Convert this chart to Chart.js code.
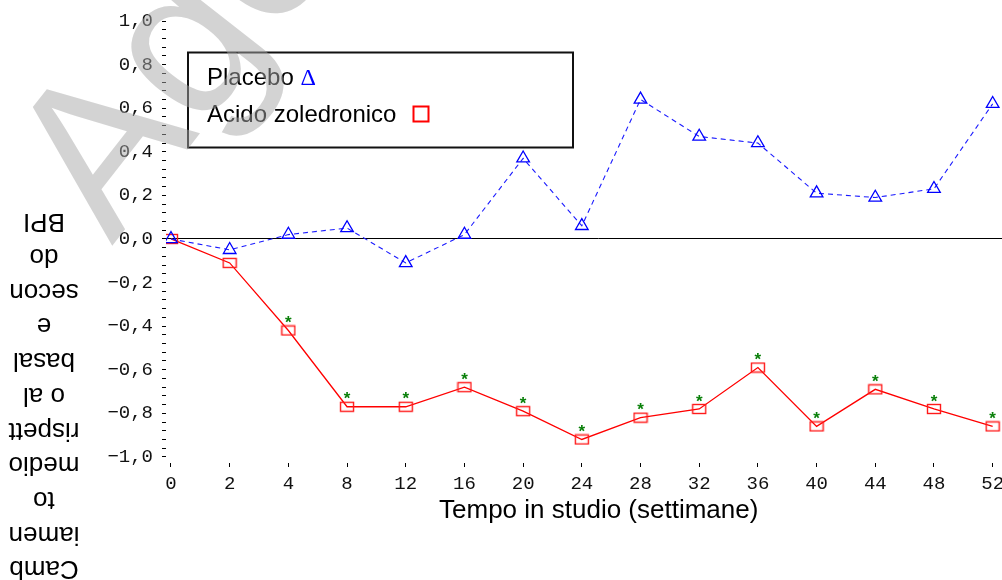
<!DOCTYPE html>
<html>
<head>
<meta charset="utf-8">
<script src="https://cdn.jsdelivr.net/npm/chart.js@4/dist/chart.umd.min.js"></script>
<style>
html,body{margin:0;padding:0;background:#fff;overflow:hidden;width:1002px;height:580px;}
#wrap{position:relative;width:1040px;height:580px;}
</style>
</head>
<body>
<div id="wrap"><canvas id="c"></canvas></div>
<script>
// ---- data ----
const weeks = [0, 2, 4, 8, 12, 16, 20, 24, 28, 32, 36, 40, 44, 48, 52];
const placebo = [0.00, -0.05, 0.02, 0.05, -0.11, 0.02, 0.37, 0.06, 0.64, 0.47, 0.44, 0.21, 0.19, 0.23, 0.62];
const zoledronic = [0.00, -0.11, -0.42, -0.77, -0.77, -0.68, -0.79, -0.92, -0.82, -0.78, -0.59, -0.86, -0.69, -0.78, -0.86];
const significant = [false, false, true, true, true, true, true, true, true, true, true, true, true, true, true];
const seriesNames = ['Placebo', 'Acido zoledronico'];
const yMajorTicks = [-1.0, -0.8, -0.6, -0.4, -0.2, 0.0, 0.2, 0.4, 0.6, 0.8, 1.0];
const xTitle = 'Tempo in studio (settimane)';
const yTitleLines = ['Camb', 'iamen', 'to', 'medio', 'rispett', 'o al', 'basal', 'e', 'secon', 'do', 'BPI'];
const watermarkText = 'Agenzia Italiana del Farmaco';

// minor ticks: 4 between each pair of major ticks
const yAllTicks = [];
yMajorTicks.forEach((v, i) => {
  yAllTicks.push(v);
  if (i < yMajorTicks.length - 1) {
    const next = yMajorTicks[i + 1];
    for (let j = 1; j < 5; j++) yAllTicks.push(v + j * (next - v) / 5);
  }
});
function fmtY(v) {
  const isMajor = yMajorTicks.some(m => Math.abs(m - v) < 1e-6);
  if (!isMajor) return '';
  const s = Math.abs(v).toFixed(1).replace('.', ',');
  return v < -1e-9 ? '\u2212' + s : s;
}

// marker images
function makeRect() {
  const c = document.createElement('canvas');
  c.width = 16; c.height = 12;
  const g = c.getContext('2d');
  g.strokeStyle = '#ff1a1a';
  g.lineWidth = 1.4;
  g.strokeRect(1.5, 1.5, 13, 9);
  return c;
}
const rectImg = makeRect();

const decor = {
  id: 'decor',
  afterDatasetsDraw(chart) {
    const ctx = chart.ctx;
    const meta = chart.getDatasetMeta(1);
    ctx.save();
    ctx.fillStyle = '#0a800a';
    ctx.font = 'bold 17px "Liberation Sans"';
    ctx.textAlign = 'center';
    ctx.textBaseline = 'middle';
    meta.data.forEach((pt, i) => {
      if (significant[i]) ctx.fillText('*', pt.x, pt.y - 7);
    });
    ctx.restore();
  },
  afterDraw(chart) {
    const ctx = chart.ctx;
    const ca = chart.chartArea;
    // legend box
    ctx.save();
    const bx = ca.left + 22, by = ca.top + 31.5;
    ctx.strokeStyle = '#111';
    ctx.lineWidth = 2;
    ctx.strokeRect(bx, by, 385, 95);
    ctx.font = '24px "Liberation Sans"';
    ctx.fillStyle = '#000';
    ctx.textAlign = 'left';
    ctx.textBaseline = 'alphabetic';
    const tx = ca.left + 41;
    const label0 = seriesNames[0] + ' ';
    ctx.fillText(label0, tx, ca.top + 64);
    const w0 = ctx.measureText(label0).width;
    ctx.font = '24px "Liberation Serif"';
    ctx.fillStyle = '#0000ff';
    ctx.fillText('\u0394', tx + w0, ca.top + 64);
    ctx.font = '24px "Liberation Sans"';
    ctx.fillStyle = '#000';
    ctx.fillText(seriesNames[1], tx, ca.top + 100.5);
    ctx.strokeStyle = '#ff0000';
    ctx.lineWidth = 2;
    ctx.strokeRect(ca.left + 247.5, ca.top + 85.5, 15, 15);
    ctx.restore();

    // y-axis title (upside down)
    ctx.save();
    ctx.translate(44, 395);
    ctx.rotate(Math.PI);
    ctx.font = '26px "Liberation Sans"';
    ctx.fillStyle = '#000';
    ctx.textAlign = 'center';
    ctx.textBaseline = 'middle';
    const n = yTitleLines.length;
    yTitleLines.forEach((t, i) => ctx.fillText(t, 0, (i - (n - 1) / 2) * 34.7));
    ctx.restore();

    // watermark
    ctx.save();
    ctx.translate(112, 246);
    ctx.rotate(-52 * Math.PI / 180);
    ctx.font = '215px "Liberation Sans"';
    ctx.fillStyle = 'rgba(167,167,167,0.5)';
    ctx.textAlign = 'left';
    ctx.textBaseline = 'alphabetic';
    ctx.fillText(watermarkText, 0, 0);
    ctx.restore();
  }
};

const monoFont = { family: '"Liberation Mono", monospace', size: 19 };

new Chart(document.getElementById('c'), {
  type: 'line',
  data: {
    datasets: [
      {
        label: seriesNames[0],
        data: weeks.map((w, i) => ({ x: i, y: placebo[i] })),
        borderColor: '#1a1aff',
        borderWidth: 1.1,
        borderDash: [5, 4],
        pointStyle: 'triangle',
        pointRadius: 7.3,
        pointBorderColor: '#0000ff',
        pointBackgroundColor: 'rgba(0,0,0,0)',
        pointBorderWidth: 1.3,
        tension: 0,
        fill: false
      },
      {
        label: seriesNames[1],
        data: weeks.map((w, i) => ({ x: i, y: zoledronic[i] })),
        borderColor: '#ff0000',
        borderWidth: 1.3,
        pointStyle: rectImg,
        pointRadius: 7,
        tension: 0,
        fill: false
      }
    ]
  },
  options: {
    responsive: true,
    maintainAspectRatio: false,
    animation: false,
    layout: { padding: { top: 21, right: 6, bottom: 0, left: 0 } },
    plugins: { legend: { display: false }, tooltip: { enabled: false } },
    scales: {
      x: {
        type: 'linear',
        min: -0.085,
        max: 14.66,
        afterBuildTicks: s => { s.ticks = weeks.map((w, i) => ({ value: i })); },
        afterFit: s => { s.height = 117; },
        ticks: {
          callback: (v, idx) => String(weeks[idx]),
          font: monoFont,
          color: '#111',
          padding: 6,
          maxRotation: 0,
          autoSkip: false
        },
        grid: { drawOnChartArea: false, drawTicks: true, tickLength: 4, tickColor: '#000', color: '#000' },
        border: { display: false },
        title: {
          display: true,
          text: xTitle,
          font: { family: '"Liberation Sans"', size: 26 },
          color: '#000',
          padding: { top: 0, bottom: 54 }
        }
      },
      y: {
        type: 'linear',
        min: -1.028,
        max: 1.0,
        afterBuildTicks: s => { s.ticks = yAllTicks.map(v => ({ value: v })); },
        afterFit: s => { s.width = 166; },
        ticks: {
          callback: v => fmtY(v),
          font: monoFont,
          color: '#111',
          padding: 9,
          autoSkip: false
        },
        grid: {
          drawOnChartArea: true,
          drawTicks: true,
          tickLength: 4,
          tickColor: '#000',
          lineWidth: 1,
          color: c => (c.tick && Math.abs(c.tick.value) < 1e-9) ? '#000' : 'rgba(0,0,0,0)'
        },
        border: { display: false }
      }
    }
  },
  plugins: [decor]
});
</script>
</body>
</html>
